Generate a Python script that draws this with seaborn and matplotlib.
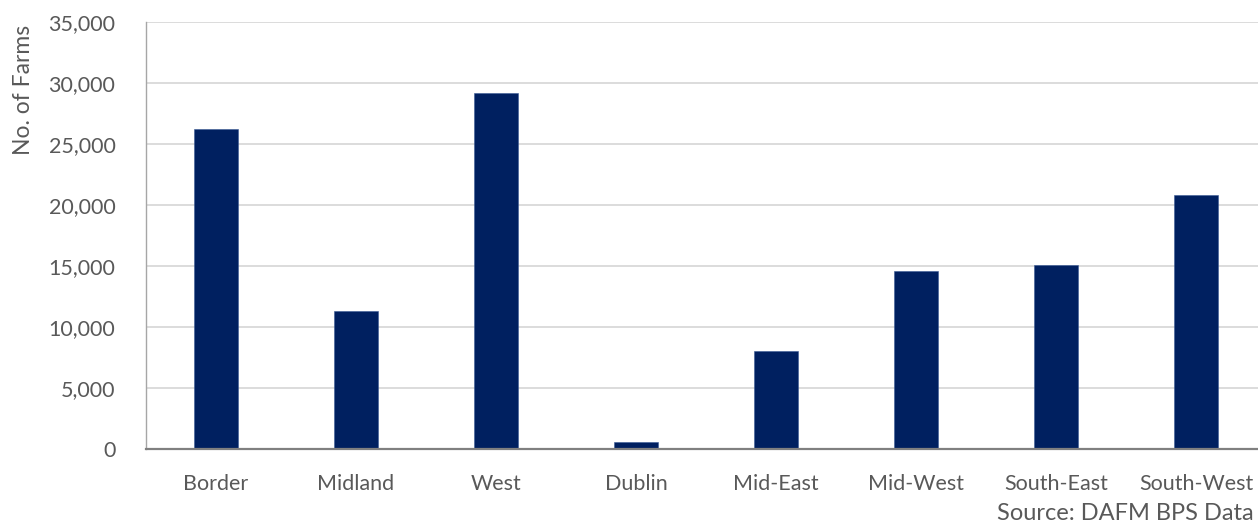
import matplotlib
matplotlib.use("Agg")
import matplotlib.pyplot as plt
import seaborn as sns
import pandas as pd

regions = ["Border", "Midland", "West", "Dublin", "Mid-East", "Mid-West", "South-East", "South-West"]
farms = [26230, 11350, 29190, 580, 8030, 14600, 15120, 20820]
y_ticks = [0, 5000, 10000, 15000, 20000, 25000, 30000, 35000]

sns.set_theme(style="white")
plt.rcParams["font.family"] = ["Lato", "DejaVu Sans"]

df = pd.DataFrame({"Region": regions, "Farms": farms})

W, H = 1258, 524
fig = plt.figure(figsize=(W / 100, H / 100), dpi=100)
left, right, top, bottom = 146, 1266, 22, 449
ax = fig.add_axes([left / W, 1 - bottom / H, (right - left) / W, (bottom - top) / H])

sns.barplot(data=df, x="Region", y="Farms", color="#002060", width=0.315,
            saturation=1, ax=ax, edgecolor="#3a5a95", linewidth=0.4)

ax.set_ylim(0, 35000)
ax.set_xlim(-0.5, len(regions) - 0.5)
ax.set_yticks(y_ticks)
ax.set_yticklabels([f"{v:,}" for v in y_ticks])
ax.yaxis.grid(True, color="#D9D9D9", linewidth=1.3)
ax.set_axisbelow(True)

for s in ["top", "right"]:
    ax.spines[s].set_visible(False)
ax.spines["left"].set_color("#A6A6A6")
ax.spines["left"].set_linewidth(1.0)
ax.spines["bottom"].set_color("#808080")
ax.spines["bottom"].set_linewidth(1.6)

ax.tick_params(axis="both", length=0, labelsize=15.5, colors="#595959")
ax.tick_params(axis="y", pad=22)
ax.tick_params(axis="x", pad=18)

ax.set_xlabel("")
ax.set_ylabel("No. of Farms", fontsize=16.5, color="#595959")
ax.yaxis.set_label_coords(-0.100, 0.84)

fig.text(1254 / W, 1 - 513 / H, "Source: DAFM BPS Data", fontsize=17,
         color="#595959", ha="right", va="center")

fig.savefig("out.png", dpi=100)
